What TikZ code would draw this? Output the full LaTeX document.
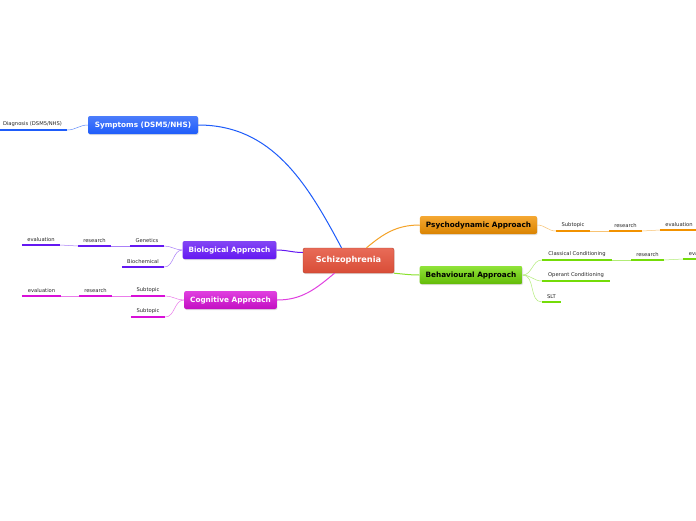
\documentclass[tikz,border=0pt]{standalone}
\usepackage{fontspec}
\setmainfont{DejaVu Sans}
\usepackage{tikz}
\usetikzlibrary{shadows}

\definecolor{cred}{HTML}{E4513A}
\definecolor{cblue}{HTML}{1E5CFA}
\definecolor{cpurple}{HTML}{6418F2}
\definecolor{cmag}{HTML}{D810D8}
\definecolor{corange}{HTML}{F29200}
\definecolor{cgreen}{HTML}{74DC08}

\begin{document}
\begin{tikzpicture}[
    x=1pt, y=-1pt,
    topic/.style={rounded corners=2pt, minimum height=18pt, inner xsep=6pt, inner ysep=0pt,
      text height=5.4pt, text depth=1.4pt,
      font=\fontsize{7.3}{8}\selectfont\bfseries, drop shadow={opacity=0.25, shadow xshift=0.6pt, shadow yshift=-1pt}},
    leaf/.style={anchor=south, inner xsep=0pt, inner ysep=3pt, text=black!85,
      font=\fontsize{5.2}{6}\selectfont},
    ul/.style={line width=2pt},
    link/.style={line width=0.5pt}
  ]
  \clip (0,0) rectangle (696,520);
  \fill[white] (0,0) rectangle (696,520);

  % central topic
  \node[topic, top color=cred!85!white, bottom color=cred!95!black, draw=cred!80!black, text=white,
    minimum width=91pt, minimum height=25pt, font=\fontsize{8.2}{9}\selectfont\bfseries] (central) at (348.5,260.5) {Schizophrenia};

  % main topics
  \node[topic, top color=cblue!80!white, bottom color=cblue, text=white, minimum width=110pt] (sym) at (143,125) {Symptoms (DSM5/NHS)};
  \node[topic, top color=cpurple!80!white, bottom color=cpurple, text=white, minimum width=93pt] (bio) at (229.5,250) {Biological Approach};
  \node[topic, top color=cmag!80!white, bottom color=cmag!90!black, text=white, minimum width=91pt] (cog) at (230.5,300) {Cognitive Approach};
  \node[topic, top color=corange!80!white, bottom color=corange!90!black, text=black, minimum width=115pt] (psy) at (478.5,225) {Psychodynamic Approach};
  \node[topic, top color=cgreen!80!white, bottom color=cgreen!85!black, text=black, minimum width=100pt] (beh) at (471,275) {Behavioural Approach};

  % subtopics
  \node[leaf, minimum width=69pt, xshift=-2pt] (diag) at (34.5,130) {Diagnosis (DSM5/NHS)};

  \node[leaf, minimum width=34pt] (gen) at (147,246) {Genetics};
  \node[leaf, minimum width=42pt] (bioch) at (143,267) {Biochemical};
  \node[leaf, minimum width=33pt] (bres) at (94.5,246) {research};
  \node[leaf, minimum width=38pt] (beval) at (41,245) {evaluation};

  \node[leaf, minimum width=34pt] (csub) at (148,296) {Subtopic};
  \node[leaf, minimum width=34pt] (csubb) at (148,317) {Subtopic};
  \node[leaf, minimum width=33pt] (cres) at (95.5,296) {research};
  \node[leaf, minimum width=39pt] (ceval) at (41.5,296) {evaluation};

  \node[leaf, minimum width=34pt] (psub) at (573,231) {Subtopic};
  \node[leaf, minimum width=33pt] (pres) at (625.5,231) {research};
  \node[leaf, minimum width=38pt] (peval) at (679,230) {evaluation};

  \node[leaf, minimum width=70pt] (ccond) at (577,260) {Classical Conditioning};
  \node[leaf, minimum width=68pt] (ocond) at (576,281) {Operant Conditioning};
  \node[leaf, minimum width=19pt] (slt) at (551.5,302) {SLT};
  \node[leaf, minimum width=33pt] (gres) at (647.5,260) {research};
  \node[leaf, minimum width=39pt] (geval) at (702.5,259) {evaluation};

  % underlines
  \draw[ul, cblue] (diag.south west) -- (diag.south east);
  \foreach \n in {gen,bioch,bres,beval}
    \draw[ul, cpurple] (\n.south west) -- (\n.south east);
  \foreach \n in {csub,csubb,cres,ceval}
    \draw[ul, cmag] (\n.south west) -- (\n.south east);
  \foreach \n in {psub,pres,peval}
    \draw[ul, corange] (\n.south west) -- (\n.south east);
  \foreach \n in {ccond,ocond,slt,gres,geval}
    \draw[ul, cgreen] (\n.south west) -- (\n.south east);

  % connectors from the central topic
  \draw[line width=1pt, cblue] ([xshift=-7pt]central.north) to[out=118,in=0] (sym.east);
  \draw[line width=1pt, cpurple] ([yshift=8pt]central.west) to[out=180,in=0] (bio.east);
  \draw[line width=1pt, cmag!80!white] ([xshift=-14pt]central.south) to[out=-140,in=0] (cog.east);
  \draw[line width=1pt, corange!85!white] ([xshift=18pt]central.north) to[out=40,in=180] (psy.west);
  \draw[line width=1pt, cgreen!85!white] (central.south east) to[out=-5,in=180] (beh.west);

  % connectors to the subtopics
  \draw[link, cblue!70!white] (sym.west) to[out=180,in=0] (diag.south east);
  \draw[link, cpurple!55!white] (bio.west) to[out=180,in=0] (gen.south east);
  \draw[link, cpurple!55!white] (bio.west) to[out=180,in=0] (bioch.south east);
  \draw[link, cpurple!55!white] (gen.south west) -- (bres.south east);
  \draw[link, cpurple!55!white] (bres.south west) -- (beval.south east);
  \draw[link, cmag!55!white] (cog.west) to[out=180,in=0] (csub.south east);
  \draw[link, cmag!55!white] (cog.west) to[out=180,in=0] (csubb.south east);
  \draw[link, cmag!55!white] (csub.south west) -- (cres.south east);
  \draw[link, cmag!55!white] (cres.south west) -- (ceval.south east);
  \draw[link, corange!55!white] (psy.east) to[out=0,in=180] (psub.south west);
  \draw[link, corange!55!white] (psub.south east) -- (pres.south west);
  \draw[link, corange!55!white] (pres.south east) -- (peval.south west);
  \draw[link, cgreen!55!white] (beh.east) to[out=0,in=180] (ccond.south west);
  \draw[link, cgreen!55!white] (beh.east) to[out=0,in=180] (ocond.south west);
  \draw[link, cgreen!55!white] (beh.east) to[out=0,in=180] (slt.south west);
  \draw[link, cgreen!55!white] (ccond.south east) -- (gres.south west);
  \draw[link, cgreen!55!white] (gres.south east) -- (geval.south west);
\end{tikzpicture}
\end{document}
